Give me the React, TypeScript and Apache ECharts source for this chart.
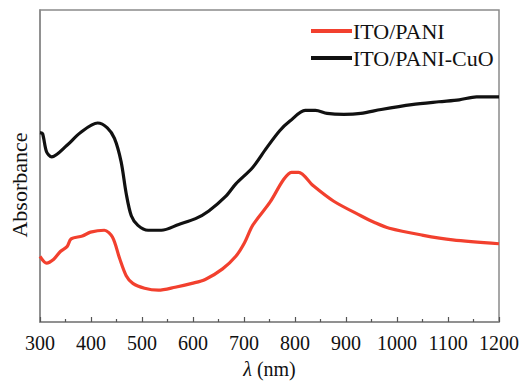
import React, { useEffect, useRef } from "react";
import * as echarts from "echarts";

const wavelengthsBlack = [300, 305, 313, 323, 353, 379, 413, 432, 446, 459, 469, 479, 492, 512, 538, 572, 605, 631, 664, 684, 717, 744, 770, 790, 820, 840, 863, 896, 929, 969, 1029, 1082, 1122, 1156, 1200];
const absBlack = [196, 195, 176, 171, 183, 196, 206, 201, 190, 166, 133, 110, 100, 95, 95, 101, 107, 115, 130, 143, 160, 180, 198, 208, 219, 219, 216, 215, 216, 220, 225, 228, 230, 233, 233];

const wavelengthsRed = [300, 313, 327, 340, 353, 361, 383, 399, 426, 442, 456, 469, 482, 505, 532, 565, 598, 624, 658, 684, 701, 717, 751, 777, 793, 807, 836, 876, 929, 956, 985, 1049, 1109, 1200];
const absRed = [68, 61, 65, 73, 78, 86, 89, 93, 95, 88, 66, 48, 40, 35, 33, 36, 40, 44, 55, 68, 82, 100, 124, 147, 155, 155, 141, 125, 110, 103, 97, 90, 85, 81];

const seriesNames = ["ITO/PANI", "ITO/PANI-CuO"];
const xTicks = { min: 300, max: 1200, interval: 100 };

const FONT = "'Liberation Serif', 'Times New Roman', serif";

export default function App() {
  const ref = useRef<HTMLDivElement>(null);
  useEffect(() => {
    if (!ref.current) return;
    const chart = echarts.init(ref.current, null, { renderer: "svg" });
    const red = wavelengthsRed.map((w, i) => [w, absRed[i]]);
    const black = wavelengthsBlack.map((w, i) => [w, absBlack[i]]);
    chart.setOption({
      animation: false,
      backgroundColor: "#fff",
      grid: {
        left: 40,
        right: 29,
        top: 10,
        bottom: 50,
        show: true,
        borderColor: "#8a8a8a",
        borderWidth: 1.5,
        backgroundColor: "transparent",
      },
      legend: {
        orient: "vertical",
        left: 306,
        top: 15,
        itemWidth: 41,
        itemHeight: 4,
        itemGap: 5,
        icon: "rect",
        data: seriesNames,
        textStyle: { fontFamily: FONT, fontSize: 22, color: "#111", padding: [0, 0, 0, -4] },
      },
      xAxis: {
        type: "value",
        min: xTicks.min,
        max: xTicks.max,
        interval: xTicks.interval,
        axisLine: { show: true, lineStyle: { color: "#8a8a8a", width: 1.5 } },
        axisTick: { show: true, inside: true, length: 5, lineStyle: { color: "#555", width: 1.2 } },
        minorTick: { show: true, splitNumber: 2, length: 3, lineStyle: { color: "#555", width: 1.2 } },
        splitLine: { show: false },
        axisLabel: {
          fontFamily: FONT,
          fontSize: 20,
          color: "#111",
          margin: 11,
          formatter: (v: number) => String(v),
        },
        name: "{i|λ} (nm)",
        nameLocation: "middle",
        nameGap: 37,
        nameTextStyle: {
          fontFamily: FONT,
          fontSize: 20,
          color: "#111",
          rich: { i: { fontFamily: FONT, fontSize: 20, fontStyle: "italic", color: "#111" } },
        },
      },
      yAxis: {
        type: "value",
        min: 0,
        max: 323,
        axisLine: { show: true, lineStyle: { color: "#8a8a8a", width: 1.5 } },
        axisTick: { show: false },
        axisLabel: { show: false },
        splitLine: { show: false },
      },
      graphic: [
        {
          type: "text",
          x: 19,
          y: 185,
          rotation: Math.PI / 2,
          style: {
            text: "Absorbance",
            fontFamily: FONT,
            fontSize: 22,
            fill: "#111",
            align: "center",
            verticalAlign: "middle",
          },
        },
      ],
      series: [
        {
          name: seriesNames[0],
          type: "line",
          data: red,
          smooth: 0.3,
          symbol: "none",
          lineStyle: { color: "#f2402e", width: 3.2 },
          itemStyle: { color: "#f2402e" },
        },
        {
          name: seriesNames[1],
          type: "line",
          data: black,
          smooth: 0.3,
          symbol: "none",
          lineStyle: { color: "#111", width: 3.2 },
          itemStyle: { color: "#111" },
        },
      ],
    });
    return () => chart.dispose();
  }, []);
  return <div ref={ref} style={{ width: 528, height: 384, position: "absolute", left: 0, top: 0 }} />;
}
